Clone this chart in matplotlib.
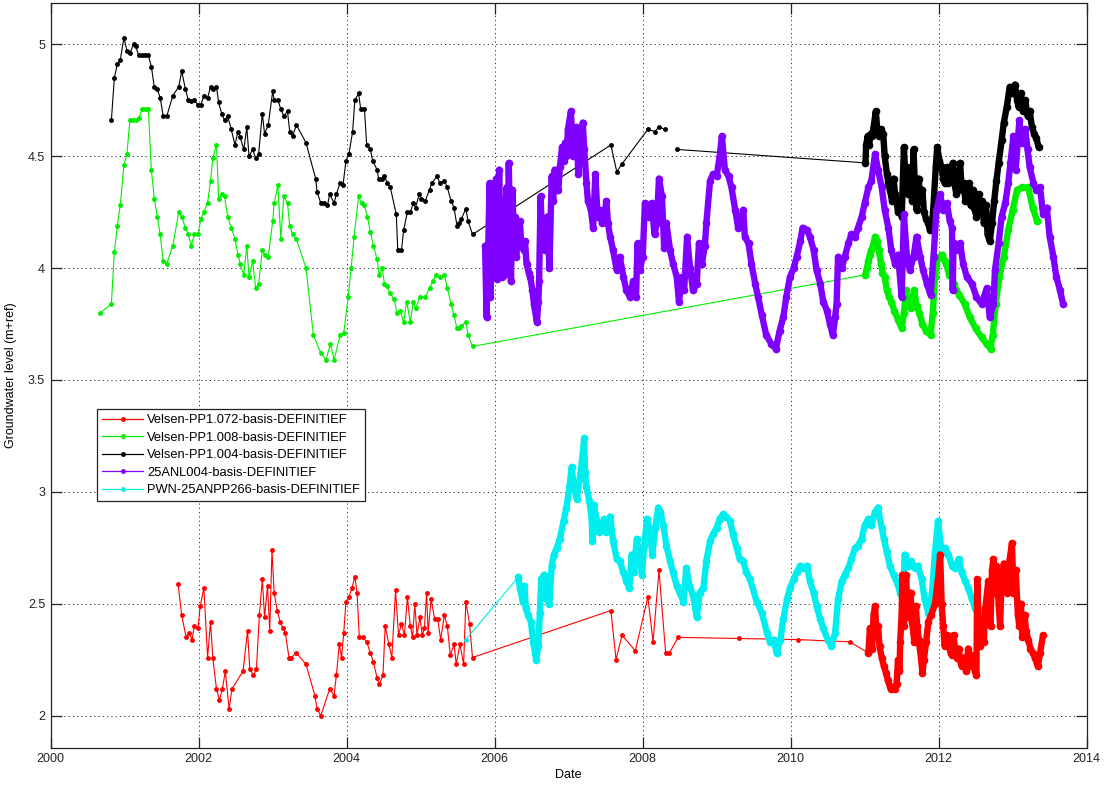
import numpy as np
import matplotlib
matplotlib.use('Agg')
import matplotlib.pyplot as plt

# ---------------- data (year, groundwater level m+ref) ----------------
red_years = [2001.72, 2001.77, 2001.83, 2001.87, 2001.91, 2001.94, 2001.99, 2002.02, 2002.07, 2002.12,
             2002.16, 2002.19, 2002.24, 2002.28, 2002.32, 2002.36, 2002.41, 2002.45, 2002.60, 2002.66,
             2002.69, 2002.74, 2002.78, 2002.82, 2002.86, 2002.89, 2002.93, 2002.96, 2002.99, 2003.02,
             2003.06, 2003.10, 2003.14, 2003.17, 2003.22, 2003.25, 2003.32, 2003.45, 2003.57, 2003.60,
             2003.65, 2003.77, 2003.83, 2003.86, 2003.90, 2003.93, 2003.96, 2003.99, 2004.03, 2004.07,
             2004.11, 2004.14, 2004.17, 2004.22, 2004.27, 2004.32, 2004.36, 2004.41, 2004.44, 2004.49,
             2004.52, 2004.57, 2004.61, 2004.66, 2004.70, 2004.74, 2004.78, 2004.82, 2004.86, 2004.89,
             2004.92, 2004.95, 2004.99, 2005.02, 2005.05, 2005.08, 2005.10, 2005.14, 2005.19, 2005.23,
             2005.27, 2005.32, 2005.36, 2005.40, 2005.45, 2005.48, 2005.53, 2005.58, 2005.61, 2005.66,
             2005.70, 2007.57, 2007.64, 2007.72, 2007.90, 2008.07, 2008.14, 2008.22, 2008.31, 2008.36,
             2008.48, 2009.30, 2010.10, 2010.80,
             2011.05, 2011.07, 2011.10, 2011.12, 2011.14, 2011.16, 2011.18, 2011.20, 2011.23, 2011.26,
             2011.29, 2011.31, 2011.35, 2011.38, 2011.41, 2011.43, 2011.45, 2011.47, 2011.48, 2011.50,
             2011.51, 2011.53, 2011.56, 2011.58, 2011.60, 2011.62, 2011.64, 2011.67, 2011.69, 2011.71,
             2011.73, 2011.76, 2011.78, 2011.80, 2011.83, 2011.86, 2011.90, 2011.95, 2011.99, 2012.02,
             2012.04, 2012.06, 2012.08, 2012.11, 2012.13, 2012.16, 2012.18, 2012.20, 2012.22, 2012.25,
             2012.27, 2012.29, 2012.31, 2012.34, 2012.37, 2012.40, 2012.43, 2012.46, 2012.49, 2012.51,
             2012.52, 2012.54, 2012.56, 2012.59, 2012.61, 2012.63, 2012.67, 2012.70, 2012.72, 2012.74,
             2012.76, 2012.78, 2012.81, 2012.83, 2012.85, 2012.88, 2012.92, 2012.96, 2012.99, 2013.01,
             2013.04, 2013.07, 2013.09, 2013.11, 2013.13, 2013.16, 2013.18, 2013.21, 2013.24, 2013.27,
             2013.30, 2013.34, 2013.37, 2013.41]
red_vals = [2.59, 2.45, 2.35, 2.37, 2.34, 2.40, 2.39, 2.49, 2.57, 2.26,
            2.42, 2.26, 2.12, 2.07, 2.12, 2.20, 2.03, 2.12, 2.20, 2.38,
            2.21, 2.18, 2.21, 2.45, 2.61, 2.44, 2.58, 2.38, 2.74, 2.55,
            2.47, 2.42, 2.39, 2.37, 2.26, 2.26, 2.28, 2.23, 2.09, 2.03,
            2.00, 2.12, 2.09, 2.18, 2.32, 2.26, 2.37, 2.51, 2.53, 2.57,
            2.62, 2.55, 2.35, 2.35, 2.33, 2.28, 2.24, 2.17, 2.14, 2.18,
            2.40, 2.32, 2.26, 2.56, 2.36, 2.41, 2.36, 2.53, 2.40, 2.35,
            2.50, 2.36, 2.44, 2.36, 2.39, 2.55, 2.37, 2.52, 2.43, 2.43,
            2.34, 2.45, 2.40, 2.27, 2.32, 2.23, 2.32, 2.23, 2.51, 2.41,
            2.26, 2.47, 2.25, 2.36, 2.29, 2.53, 2.33, 2.65, 2.28, 2.28,
            2.35, 2.345, 2.34, 2.33,
            2.28, 2.39, 2.30, 2.45, 2.49, 2.36, 2.40, 2.31, 2.26, 2.22,
            2.19, 2.16, 2.12, 2.13, 2.12, 2.14, 2.25, 2.20, 2.33, 2.46,
            2.63, 2.40, 2.63, 2.44, 2.52, 2.55, 2.42, 2.33, 2.49, 2.40,
            2.34, 2.26, 2.19, 2.25, 2.33, 2.42, 2.45, 2.50, 2.61, 2.72,
            2.50, 2.40, 2.31, 2.36, 2.33, 2.28, 2.27, 2.36, 2.30, 2.26,
            2.30, 2.25, 2.22, 2.26, 2.20, 2.30, 2.22, 2.27, 2.20, 2.18,
            2.61, 2.43, 2.31, 2.38, 2.33, 2.48, 2.60, 2.40, 2.65, 2.70,
            2.55, 2.67, 2.50, 2.40, 2.60, 2.68, 2.55, 2.70, 2.77, 2.55,
            2.65, 2.45, 2.40, 2.50, 2.35, 2.45, 2.38, 2.34, 2.30, 2.28,
            2.26, 2.22, 2.28, 2.36]

green_years = [2000.67, 2000.82, 2000.86, 2000.90, 2000.94, 2000.99, 2001.03, 2001.07, 2001.11, 2001.15,
               2001.19, 2001.24, 2001.28, 2001.32, 2001.36, 2001.40, 2001.44, 2001.48, 2001.52, 2001.57,
               2001.65, 2001.73, 2001.77, 2001.82, 2001.86, 2001.90, 2001.94, 2001.99, 2002.03, 2002.07,
               2002.12, 2002.16, 2002.19, 2002.24, 2002.27, 2002.31, 2002.35, 2002.39, 2002.44, 2002.49,
               2002.53, 2002.56, 2002.61, 2002.65, 2002.68, 2002.73, 2002.77, 2002.81, 2002.86, 2002.89,
               2002.94, 2003.00, 2003.02, 2003.07, 2003.11, 2003.15, 2003.20, 2003.23, 2003.27, 2003.32,
               2003.45, 2003.55, 2003.65, 2003.72, 2003.78, 2003.83, 2003.91, 2003.96, 2004.02, 2004.06,
               2004.10, 2004.16, 2004.20, 2004.24, 2004.28, 2004.32, 2004.36, 2004.41, 2004.44, 2004.48,
               2004.51, 2004.55, 2004.58, 2004.64, 2004.68, 2004.72, 2004.77, 2004.81, 2004.86, 2004.90,
               2004.93, 2004.99, 2005.06, 2005.12, 2005.16, 2005.21, 2005.26, 2005.32, 2005.36, 2005.41,
               2005.45, 2005.49, 2005.52, 2005.55, 2005.61, 2005.64, 2005.70,
               2011.01, 2011.03, 2011.05, 2011.07, 2011.09, 2011.12, 2011.14, 2011.16, 2011.19, 2011.22,
               2011.24, 2011.27, 2011.30, 2011.33, 2011.36, 2011.40, 2011.45, 2011.50, 2011.53, 2011.56,
               2011.58, 2011.62, 2011.64, 2011.67, 2011.70, 2011.74, 2011.78, 2011.83, 2011.89, 2011.92,
               2011.95, 2011.97, 2012.00, 2012.05, 2012.08, 2012.10, 2012.14, 2012.17, 2012.20, 2012.24,
               2012.28, 2012.35, 2012.42, 2012.50, 2012.58, 2012.65, 2012.70, 2012.73, 2012.77, 2012.82,
               2012.88, 2012.94, 2013.00, 2013.06, 2013.13, 2013.21, 2013.27, 2013.33]
green_vals = [3.80, 3.84, 4.07, 4.19, 4.28, 4.46, 4.51, 4.66, 4.66, 4.66,
              4.67, 4.71, 4.71, 4.71, 4.44, 4.31, 4.23, 4.15, 4.03, 4.02,
              4.10, 4.25, 4.23, 4.18, 4.15, 4.10, 4.15, 4.15, 4.22, 4.25,
              4.29, 4.39, 4.49, 4.55, 4.31, 4.33, 4.32, 4.23, 4.18, 4.13,
              4.06, 4.02, 3.97, 4.10, 3.96, 4.03, 3.91, 3.93, 4.08, 4.06,
              4.05, 4.21, 4.29, 4.37, 4.13, 4.32, 4.29, 4.19, 4.15, 4.13,
              4.00, 3.70, 3.62, 3.59, 3.66, 3.59, 3.70, 3.71, 3.87, 4.00,
              4.14, 4.32, 4.29, 4.28, 4.23, 4.16, 4.10, 4.04, 3.97, 4.00,
              3.93, 3.92, 3.89, 3.86, 3.80, 3.81, 3.76, 3.85, 3.76, 3.85,
              3.82, 3.87, 3.87, 3.91, 3.94, 3.97, 3.96, 3.97, 3.91, 3.84,
              3.79, 3.73, 3.73, 3.74, 3.76, 3.70, 3.65,
              3.97, 4.00, 4.03, 4.06, 4.08, 4.11, 4.14, 4.12, 4.08, 4.02,
              3.98, 3.96, 3.90, 3.87, 3.85, 3.81, 3.77, 3.73, 3.80, 3.90,
              3.84, 3.82, 3.86, 3.90, 3.83, 3.80, 3.75, 3.72, 3.70, 3.80,
              3.96, 4.02, 4.05, 4.06, 4.03, 4.02, 3.97, 3.99, 3.93, 3.90,
              3.88, 3.84, 3.78, 3.73, 3.69, 3.66, 3.64, 3.70, 3.84, 3.96,
              4.05, 4.17, 4.26, 4.35, 4.36, 4.36, 4.27, 4.21]

black_years = [2000.82, 2000.86, 2000.90, 2000.94, 2000.99, 2001.03, 2001.07, 2001.12, 2001.15, 2001.19,
               2001.24, 2001.28, 2001.32, 2001.36, 2001.40, 2001.44, 2001.48, 2001.52, 2001.57, 2001.65,
               2001.73, 2001.77, 2001.82, 2001.86, 2001.90, 2001.94, 2001.99, 2002.03, 2002.07, 2002.12,
               2002.16, 2002.19, 2002.24, 2002.27, 2002.31, 2002.35, 2002.39, 2002.44, 2002.49, 2002.53,
               2002.56, 2002.61, 2002.65, 2002.68, 2002.73, 2002.77, 2002.81, 2002.86, 2002.89, 2002.94,
               2003.00, 2003.02, 2003.07, 2003.11, 2003.15, 2003.20, 2003.23, 2003.27, 2003.32, 2003.45,
               2003.58, 2003.60, 2003.65, 2003.69, 2003.74, 2003.77, 2003.83, 2003.86, 2003.91, 2003.95,
               2003.99, 2004.03, 2004.08, 2004.11, 2004.16, 2004.19, 2004.24, 2004.27, 2004.32, 2004.35,
               2004.41, 2004.43, 2004.48, 2004.51, 2004.55, 2004.59, 2004.67, 2004.69, 2004.74, 2004.77,
               2004.82, 2004.86, 2004.90, 2004.93, 2004.98, 2005.01, 2005.06, 2005.12, 2005.15, 2005.22,
               2005.26, 2005.32, 2005.36, 2005.41, 2005.45, 2005.49, 2005.52, 2005.55, 2005.61, 2005.64,
               2005.70, 2007.57, 2007.65, 2007.72, 2008.07, 2008.16, 2008.22, 2008.30, 2008.38, 2008.47,
               2011.01, 2011.02, 2011.04, 2011.06, 2011.08, 2011.10, 2011.12, 2011.15, 2011.17, 2011.19,
               2011.22, 2011.25, 2011.27, 2011.30, 2011.32, 2011.34, 2011.37, 2011.39, 2011.41, 2011.43,
               2011.45, 2011.48, 2011.50, 2011.53, 2011.55, 2011.57, 2011.59, 2011.62, 2011.64, 2011.66,
               2011.68, 2011.70, 2011.73, 2011.75, 2011.78, 2011.80, 2011.83, 2011.86, 2011.88, 2011.91,
               2011.93, 2011.96, 2011.98, 2012.01, 2012.04, 2012.06, 2012.08, 2012.11, 2012.13, 2012.16,
               2012.19, 2012.21, 2012.24, 2012.27, 2012.29, 2012.31, 2012.34, 2012.36, 2012.38, 2012.41,
               2012.43, 2012.46, 2012.48, 2012.51, 2012.54, 2012.56, 2012.59, 2012.61, 2012.64, 2012.66,
               2012.69, 2012.72, 2012.75, 2012.78, 2012.81, 2012.85, 2012.88, 2012.92, 2012.96, 2012.99,
               2013.03, 2013.06, 2013.08, 2013.11, 2013.14, 2013.17, 2013.20, 2013.23, 2013.26, 2013.29,
               2013.32, 2013.35]
black_vals = [4.66, 4.85, 4.91, 4.93, 5.03, 4.97, 4.96, 5.00, 4.99, 4.95,
              4.95, 4.95, 4.95, 4.90, 4.81, 4.80, 4.76, 4.68, 4.68, 4.77,
              4.81, 4.88, 4.80, 4.75, 4.745, 4.75, 4.73, 4.73, 4.77, 4.76,
              4.81, 4.80, 4.81, 4.74, 4.69, 4.66, 4.68, 4.62, 4.55, 4.61,
              4.585, 4.53, 4.63, 4.50, 4.53, 4.49, 4.51, 4.69, 4.60, 4.64,
              4.79, 4.75, 4.75, 4.71, 4.68, 4.70, 4.61, 4.59, 4.64, 4.56,
              4.40, 4.34, 4.29, 4.29, 4.28, 4.33, 4.29, 4.33, 4.38, 4.37,
              4.48, 4.51, 4.61, 4.75, 4.78, 4.71, 4.71, 4.55, 4.53, 4.48,
              4.44, 4.40, 4.40, 4.41, 4.38, 4.36, 4.24, 4.08, 4.08, 4.17,
              4.25, 4.25, 4.29, 4.27, 4.33, 4.31, 4.30, 4.35, 4.38, 4.41,
              4.38, 4.39, 4.36, 4.30, 4.27, 4.19, 4.20, 4.22, 4.265, 4.21,
              4.15, 4.55, 4.43, 4.465, 4.62, 4.61, 4.63, 4.62, np.nan, 4.53,
              4.47, 4.55, 4.59, 4.55, 4.60, 4.59, 4.63, 4.70, 4.62, 4.59,
              4.62, 4.60, 4.50, 4.42, 4.38, 4.35, 4.30, 4.40, 4.33, 4.30,
              4.25, 4.30, 4.23, 4.54, 4.40, 4.45, 4.33, 4.40, 4.30, 4.53,
              4.35, 4.26, 4.40, 4.30, 4.35, 4.25, 4.22, 4.20, 4.17, 4.19,
              4.28, 4.45, 4.54, 4.48, 4.45, 4.40, 4.38, 4.45, 4.38, 4.40,
              4.47, 4.38, 4.33, 4.40, 4.47, 4.35, 4.38, 4.30, 4.32, 4.38,
              4.28, 4.35, 4.27, 4.23, 4.33, 4.25, 4.30, 4.20, 4.28, 4.15,
              4.12, 4.20, 4.30, 4.39, 4.47, 4.57, 4.65, 4.72, 4.81, 4.78,
              4.82, 4.75, 4.72, 4.78, 4.70, 4.75, 4.68, 4.70, 4.63, 4.60,
              4.58, 4.54]

purple_years = [2005.87, 2005.89, 2005.91, 2005.93, 2005.94, 2005.96, 2005.98, 2006.00, 2006.02, 2006.03,
                2006.05, 2006.06, 2006.08, 2006.09, 2006.10, 2006.12, 2006.13, 2006.15, 2006.16, 2006.18,
                2006.19, 2006.21, 2006.22, 2006.24, 2006.26, 2006.27, 2006.29, 2006.31, 2006.34, 2006.36,
                2006.39, 2006.41, 2006.43, 2006.46, 2006.48, 2006.51, 2006.53, 2006.57, 2006.59, 2006.60,
                2006.62, 2006.64, 2006.66, 2006.68, 2006.71, 2006.74, 2006.77, 2006.79, 2006.81, 2006.84,
                2006.86, 2006.88, 2006.91, 2006.93, 2006.95, 2006.97, 2006.99, 2007.03, 2007.05, 2007.06,
                2007.10, 2007.12, 2007.13, 2007.15, 2007.17, 2007.19, 2007.21, 2007.24, 2007.26, 2007.30,
                2007.33, 2007.36, 2007.39, 2007.42, 2007.45, 2007.47, 2007.51, 2007.53, 2007.56, 2007.60,
                2007.65, 2007.69, 2007.74, 2007.78, 2007.83, 2007.87, 2007.91, 2007.93, 2007.96, 2008.00,
                2008.03, 2008.08, 2008.12, 2008.16, 2008.19, 2008.22, 2008.26, 2008.29, 2008.32, 2008.37,
                2008.41, 2008.46, 2008.49, 2008.53, 2008.56, 2008.60, 2008.64, 2008.68, 2008.73, 2008.76,
                2008.80, 2008.84, 2008.86, 2008.91, 2008.95, 2009.00, 2009.04, 2009.07, 2009.11, 2009.16,
                2009.20, 2009.25, 2009.29, 2009.36, 2009.38, 2009.43, 2009.47, 2009.52, 2009.56, 2009.61,
                2009.67, 2009.74, 2009.80, 2009.85, 2009.90, 2009.94, 2009.99, 2010.04, 2010.08, 2010.13,
                2010.16, 2010.22, 2010.26, 2010.31, 2010.35, 2010.40, 2010.44, 2010.49, 2010.53, 2010.57,
                2010.60, 2010.62, 2010.64, 2010.69, 2010.73, 2010.78, 2010.82, 2010.87, 2010.91, 2010.96,
                2011.00, 2011.05, 2011.09, 2011.14, 2011.18, 2011.23, 2011.27, 2011.32, 2011.36, 2011.41,
                2011.45, 2011.50, 2011.53, 2011.57, 2011.61, 2011.66, 2011.70, 2011.75, 2011.79, 2011.84,
                2011.89, 2011.93, 2011.97, 2012.02, 2012.06, 2012.11, 2012.15, 2012.18, 2012.19, 2012.20,
                2012.24, 2012.29, 2012.33, 2012.38, 2012.45, 2012.51, 2012.58, 2012.65, 2012.69, 2012.74,
                2012.76, 2012.81, 2012.85, 2012.90, 2012.94, 2012.97, 2013.01, 2013.04, 2013.09, 2013.12,
                2013.17, 2013.20, 2013.23, 2013.28, 2013.32, 2013.37, 2013.41, 2013.46, 2013.50, 2013.55,
                2013.59, 2013.64, 2013.68]
purple_vals = [4.10, 3.78, 4.05, 4.38, 3.87, 4.35, 4.05, 4.30, 4.40, 3.95,
               4.20, 4.44, 4.00, 4.27, 3.96, 4.25, 3.97, 4.30, 4.36, 4.05,
               4.47, 4.10, 3.94, 4.35, 4.10, 4.23, 4.05, 4.15, 4.21, 4.10,
               4.08, 4.12, 4.02, 3.98, 3.96, 3.90, 3.84, 3.76, 3.85, 3.94,
               4.32, 4.14, 4.20, 4.08, 4.23, 4.00, 4.41, 4.30, 4.44, 4.35,
               4.35, 4.45, 4.54, 4.48, 4.56, 4.50, 4.62, 4.70, 4.55, 4.50,
               4.63, 4.50, 4.42, 4.59, 4.52, 4.65, 4.53, 4.38, 4.30, 4.26,
               4.18, 4.42, 4.23, 4.26, 4.20, 4.21, 4.30, 4.20, 4.14, 4.08,
               3.99, 4.05, 3.96, 3.90, 3.87, 3.94, 3.87, 4.11, 3.99, 4.05,
               4.29, 4.23, 4.29, 4.15, 4.20, 4.40, 4.32, 4.09, 4.20, 4.08,
               4.02, 3.96, 3.85, 3.96, 3.90, 4.14, 4.00, 3.90, 3.93, 4.11,
               4.02, 4.10, 4.20, 4.39, 4.42, 4.41, 4.50, 4.59, 4.44, 4.41,
               4.36, 4.26, 4.18, 4.26, 4.14, 4.11, 4.02, 3.93, 3.87, 3.79,
               3.70, 3.66, 3.64, 3.72, 3.78, 3.87, 3.96, 4.00, 4.05, 4.12,
               4.18, 4.17, 4.14, 4.08, 3.99, 3.93, 3.85, 3.81, 3.75, 3.70,
               3.78, 3.84, 4.05, 4.00, 4.05, 4.11, 4.15, 4.14, 4.18, 4.23,
               4.29, 4.36, 4.39, 4.51, 4.44, 4.36, 4.26, 4.18, 4.08, 4.02,
               4.06, 3.87, 4.24, 4.05, 3.99, 4.05, 4.14, 4.05, 3.99, 3.93,
               3.88, 4.05, 4.26, 4.33, 4.26, 4.29, 4.21, 4.18, 3.90, 4.11,
               4.08, 4.11, 4.02, 3.96, 3.93, 3.87, 3.84, 3.91, 3.78, 3.84,
               3.99, 4.11, 4.23, 4.29, 4.38, 4.47, 4.59, 4.44, 4.66, 4.56,
               4.62, 4.53, 4.45, 4.38, 4.35, 4.36, 4.24, 4.27, 4.14, 4.05,
               3.96, 3.90, 3.84]

cyan_years = [2005.61, 2006.32, 2006.34, 2006.38, 2006.40, 2006.42, 2006.45, 2006.49, 2006.52, 2006.56,
              2006.59, 2006.61, 2006.63, 2006.67, 2006.70, 2006.74, 2006.77, 2006.80, 2006.84, 2006.88,
              2006.93, 2006.97, 2007.01, 2007.04, 2007.07, 2007.11, 2007.15, 2007.18, 2007.21, 2007.22,
              2007.24, 2007.28, 2007.31, 2007.32, 2007.34, 2007.38, 2007.41, 2007.45, 2007.48, 2007.51,
              2007.56, 2007.60, 2007.65, 2007.69, 2007.74, 2007.78, 2007.82, 2007.85, 2007.88, 2007.92,
              2007.95, 2007.99, 2008.02, 2008.06, 2008.10, 2008.13, 2008.17, 2008.21, 2008.24, 2008.28,
              2008.32, 2008.37, 2008.41, 2008.46, 2008.50, 2008.55, 2008.59, 2008.64, 2008.68, 2008.73,
              2008.77, 2008.82, 2008.86, 2008.91, 2008.95, 2009.00, 2009.04, 2009.09, 2009.13, 2009.18,
              2009.22, 2009.27, 2009.31, 2009.36, 2009.40, 2009.45, 2009.54, 2009.61, 2009.68, 2009.72,
              2009.77, 2009.81, 2009.86, 2009.90, 2009.95, 2009.99, 2010.04, 2010.08, 2010.13, 2010.17,
              2010.22, 2010.26, 2010.31, 2010.35, 2010.40, 2010.44, 2010.50, 2010.55, 2010.60, 2010.64,
              2010.69, 2010.73, 2010.78, 2010.82, 2010.87, 2010.91, 2010.96, 2011.00, 2011.05, 2011.09,
              2011.14, 2011.18, 2011.23, 2011.26, 2011.30, 2011.34, 2011.39, 2011.43, 2011.48, 2011.52,
              2011.54, 2011.59, 2011.63, 2011.68, 2011.72, 2011.77, 2011.81, 2011.86, 2011.91, 2011.95,
              2011.99, 2012.04, 2012.09, 2012.13, 2012.18, 2012.22, 2012.27, 2012.31, 2012.36, 2012.40,
              2012.45, 2012.49, 2012.54, 2012.58, 2012.63]
cyan_vals = [2.34, 2.62, 2.57, 2.51, 2.58, 2.48, 2.45, 2.42, 2.33, 2.25,
             2.31, 2.46, 2.61, 2.63, 2.52, 2.50, 2.67, 2.72, 2.75, 2.79,
             2.87, 2.93, 3.02, 3.11, 3.02, 2.97, 3.06, 3.14, 3.24, 3.09,
             3.02, 2.96, 2.88, 2.78, 2.94, 2.87, 2.82, 2.85, 2.88, 2.82,
             2.89, 2.78, 2.70, 2.69, 2.64, 2.60, 2.57, 2.72, 2.64, 2.79,
             2.72, 2.63, 2.76, 2.88, 2.82, 2.72, 2.84, 2.93, 2.91, 2.85,
             2.76, 2.69, 2.64, 2.58, 2.55, 2.51, 2.66, 2.57, 2.54, 2.44,
             2.55, 2.57, 2.69, 2.78, 2.81, 2.84, 2.88, 2.90, 2.89, 2.87,
             2.81, 2.75, 2.70, 2.69, 2.64, 2.61, 2.51, 2.46, 2.37, 2.33,
             2.34, 2.28, 2.34, 2.43, 2.52, 2.57, 2.61, 2.64, 2.67, 2.66,
             2.67, 2.60, 2.55, 2.49, 2.43, 2.39, 2.34, 2.31, 2.37, 2.52,
             2.60, 2.63, 2.66, 2.70, 2.75, 2.76, 2.79, 2.85, 2.88, 2.85,
             2.91, 2.93, 2.84, 2.79, 2.73, 2.67, 2.63, 2.60, 2.55, 2.51,
             2.72, 2.67, 2.69, 2.66, 2.67, 2.61, 2.52, 2.46, 2.55, 2.73,
             2.87, 2.73, 2.75, 2.72, 2.67, 2.66, 2.70, 2.64, 2.60, 2.57,
             2.52, 2.48, 2.45, 2.46, 2.41]

series_labels = ['Velsen-PP1.072-basis-DEFINITIEF', 'Velsen-PP1.008-basis-DEFINITIEF',
                 'Velsen-PP1.004-basis-DEFINITIEF', '25ANL004-basis-DEFINITIEF',
                 'PWN-25ANPP266-basis-DEFINITIEF']
series_colors = ['#ff0000', '#00ee00', '#000000', '#8000ff', '#00eeee']
dense_from = [2011.0, 2011.0, 2011.0, 2005.8, 2006.3]   # start of the densely logged part
dense_z = [8, 3.5, 4.5, 5.5, 6.5]

x_ticks = [2000, 2002, 2004, 2006, 2008, 2010, 2012, 2014]
y_ticks = [2, 2.5, 3, 3.5, 4, 4.5, 5]
y_tick_labels = ['2', '2.5', '3', '3.5', '4', '4.5', '5']

# ---------------- figure ----------------
plt.rcParams['font.family'] = ['Liberation Sans', 'DejaVu Sans']
fig = plt.figure(figsize=(11.14, 7.85), dpi=100)
ax = fig.add_axes([50.7 / 1114, 37.3 / 785, 1036 / 1114, 744.4 / 785])

all_years = [red_years, green_years, black_years, purple_years, cyan_years]
all_vals = [red_vals, green_vals, black_vals, purple_vals, cyan_vals]

for i, (yrs, vals) in enumerate(zip(all_years, all_vals)):
    yrs = np.asarray(yrs, float)
    vals = np.asarray(vals, float)
    c = series_colors[i]
    ax.plot(yrs, vals, color=c, lw=0.8, marker='.', ms=5, label=series_labels[i], zorder=2 + i)
    m = yrs >= dense_from[i]
    ax.plot(yrs[m], vals[m], color=c, lw=4.6, marker='o', ms=4.5,
            solid_joinstyle='round', solid_capstyle='round', zorder=dense_z[i])

ax.set_xlim(2000, 2014)
ax.set_ylim(1.857, 5.183)
ax.set_xticks(x_ticks)
ax.set_yticks(y_ticks)
ax.set_yticklabels(y_tick_labels)
ax.tick_params(direction='in', length=8, width=0.9, top=True, right=True,
               labelsize=9, pad=4, colors='#222222')
for s in ax.spines.values():
    s.set_linewidth(0.9)
    s.set_color('#222222')

ax.grid(True, color='#333333', lw=0.7, linestyle=(0, (1.2, 3.2)))
ax.set_axisbelow(True)

ax.set_xlabel('Date', fontsize=9)
ax.xaxis.set_label_coords(0.5, -0.028)
ax.set_ylabel('Groundwater level (m+ref)', fontsize=9)
ax.yaxis.set_label_coords(-0.0325, 0.5)

leg = ax.legend(loc='upper left', bbox_to_anchor=((96.7 - 50.7) / 1036, (747.7 - 409) / 744.4),
                borderaxespad=0, fontsize=9.3, numpoints=1, handlelength=3.2, handletextpad=0.3,
                borderpad=0.4, labelspacing=0.42, fancybox=False, framealpha=1)
leg.set_zorder(20)
leg.get_frame().set_edgecolor('#222222')
leg.get_frame().set_linewidth(0.9)
for h in leg.legend_handles:
    h.set_linewidth(0.9)

fig.savefig('out.png', dpi=100)
